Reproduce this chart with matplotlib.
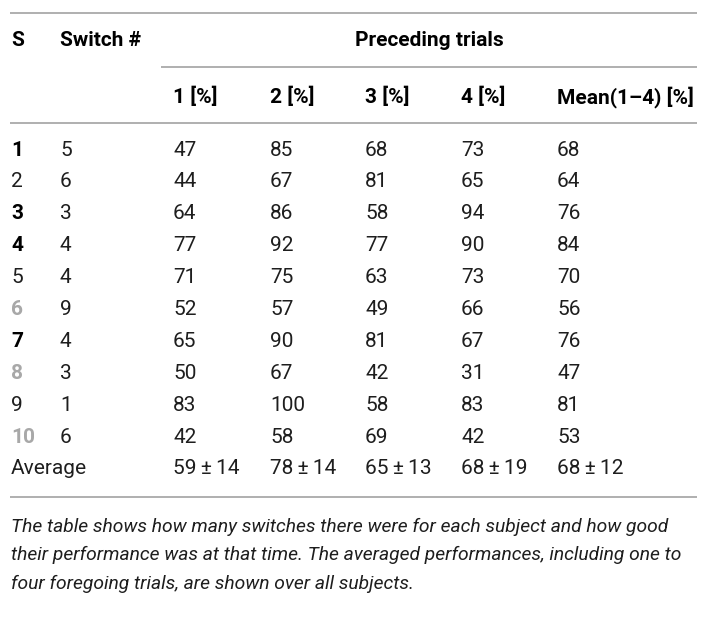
import matplotlib
matplotlib.use("Agg")
import matplotlib.pyplot as plt

subjects = ["1", "2", "3", "4", "5", "6", "7", "8", "9", "10"]
subject_style = ["bold", "normal", "bold", "bold", "normal", "gray", "bold", "gray", "normal", "gray"]
switches = [5, 6, 3, 4, 4, 9, 4, 3, 1, 6]
trial1 = [47, 44, 64, 77, 71, 52, 65, 50, 83, 42]
trial2 = [85, 67, 86, 92, 75, 57, 90, 67, 100, 58]
trial3 = [68, 81, 58, 77, 63, 49, 81, 42, 58, 69]
trial4 = [73, 65, 94, 90, 73, 66, 67, 31, 83, 42]
mean14 = [68, 64, 76, 84, 70, 56, 76, 47, 81, 53]
avg_mean = [59, 78, 65, 68, 68]
avg_sd = [14, 14, 13, 19, 12]
col_labels = ["1 [%]", "2 [%]", "3 [%]", "4 [%]", "Mean(1\u20134) [%]"]
caption = ["The table shows how many switches there were for each subject and how good",
           "their performance was at that time. The averaged performances, including one to",
           "four foregoing trials, are shown over all subjects."]

FONT = "Roboto"
W, H = 705, 618
fig = plt.figure(figsize=(W / 100, H / 100), dpi=100)
ax = fig.add_axes([0, 0, 1, 1])
ax.set_xlim(0, W)
ax.set_ylim(H, 0)
ax.axis("off")

fs = 15
body = "#1e1e1e"
line_col = "#9a9a9a"
gray = "#a8a8a8"
x_s, x_sw = 11, 60
x_cols = [173, 270, 365, 461, 557]
left, right = 10, 697

def hline(y, x0=left, x1=right):
    ax.plot([x0, x1], [y, y], color=line_col, lw=1.1, solid_capstyle="butt")

def txt(x, y, s, **kw):
    kw.setdefault("fontsize", fs)
    kw.setdefault("family", FONT)
    kw.setdefault("color", body)
    ax.text(x, y, s, va="center_baseline", ha=kw.pop("ha", "left"), **kw)

hline(13)
txt(x_s, 39, "S", weight="bold", color="black")
txt(x_sw, 39, "Switch #", weight="bold", color="black")
txt(429, 39, "Preceding trials", weight="bold", color="black", ha="center")
hline(67, 161)
for x, lab in zip(x_cols, col_labels):
    txt(x, 95, lab, weight="bold", color="black")
hline(123)

row_y0, dy = 148, 31.9
for i, s in enumerate(subjects):
    y = row_y0 + i * dy
    st = subject_style[i]
    if st == "bold":
        txt(x_s, y, s, weight="bold", color="black")
    elif st == "gray":
        txt(x_s, y, s, weight="bold", color=gray)
    else:
        txt(x_s, y, s)
    txt(x_sw, y, str(switches[i]))
    for x, vals in zip(x_cols, [trial1, trial2, trial3, trial4, mean14]):
        txt(x, y, str(vals[i]))

y_avg = row_y0 + len(subjects) * dy
txt(x_s, y_avg, "Average")
for x, m, sd in zip(x_cols, avg_mean, avg_sd):
    txt(x, y_avg, f"{m}\u2009\u00b1\u2009{sd}")
hline(497)

for k, line in enumerate(caption):
    txt(x_s, 525 + k * 28.4, line, style="italic", fontsize=13.9)

fig.savefig("out.png", dpi=100)
